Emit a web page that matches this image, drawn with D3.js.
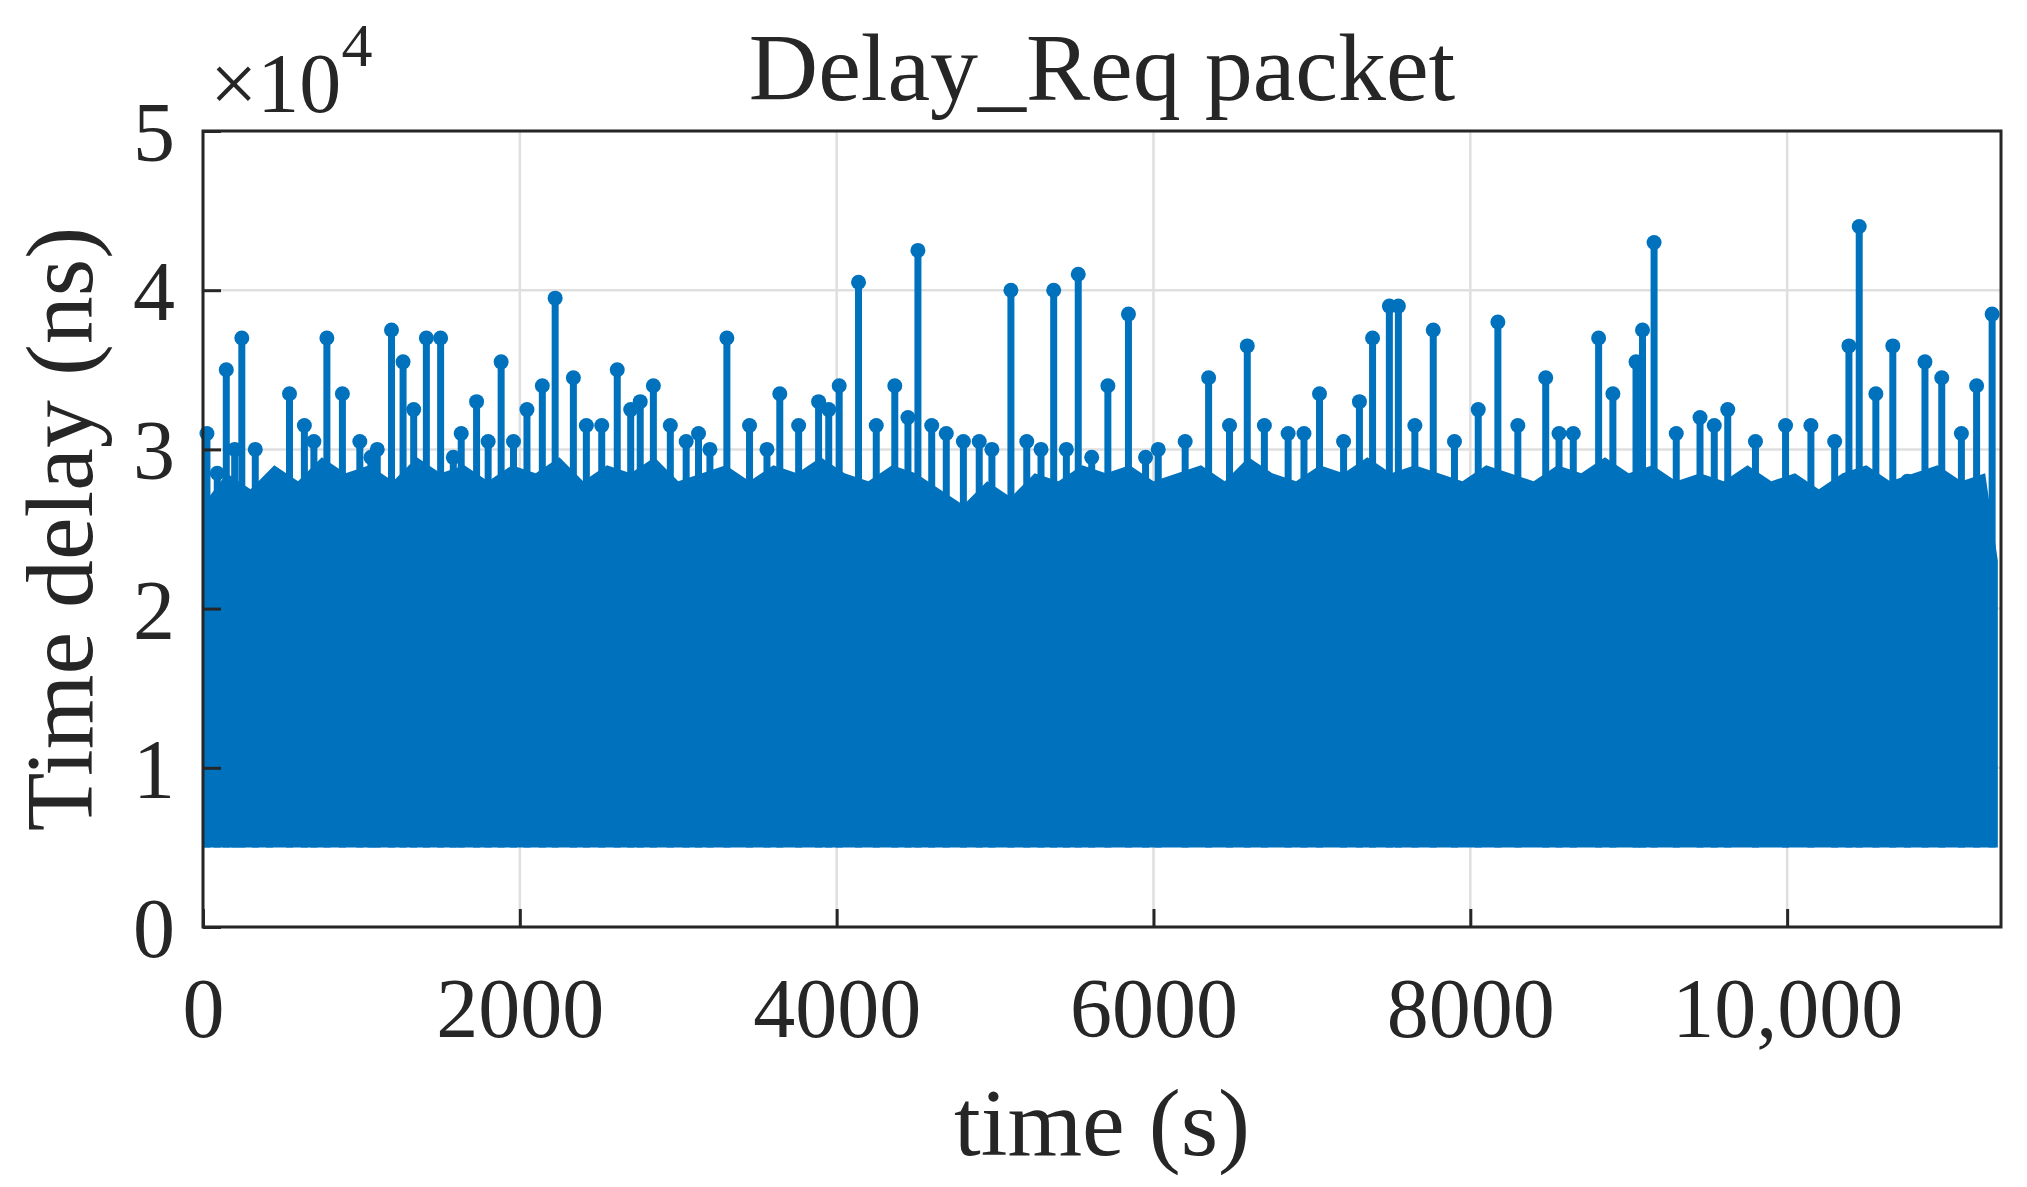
<!DOCTYPE html>
<html><head><meta charset="utf-8">
<script src="https://cdn.jsdelivr.net/npm/d3@7"></script>
<style>body{margin:0;background:#fff}svg text{font-family:"Liberation Serif","Times New Roman",serif;fill:#262626}</style>
</head><body><svg id="c" width="2027" height="1187"></svg>
<script>
// Hand-read peak delays (time s, delay ns)
const peakTimes = [25,90,147,200,245,330,420,546,640,700,782,880,990,1060,1100,1190,1263,1330,1410,1500,1580,1630,1727,1800,1882,1960,2045,2142,2223,2338,2420,2517,2615,2700,2760,2843,2950,3050,3128,3200,3307,3450,3560,3641,3760,3886,3950,4016,4138,4250,4367,4450,4513,4600,4692,4800,4900,4980,5100,5200,5290,5370,5450,5525,5610,5712,5842,5950,6030,6200,6348,6480,6592,6700,6850,6950,7048,7200,7300,7383,7489,7546,7650,7766,7900,8050,8174,8300,8476,8560,8650,8810,8900,9046,9087,9160,9300,9450,9540,9625,9800,9990,10150,10300,10390,10455,10560,10667,10760,10870,10976,11100,11196,11294];
const peakValues = [31000,28500,35000,30000,37000,30000,27000,33500,31500,30500,37000,33500,30500,29500,30000,37500,35500,32500,37000,37000,29500,31000,33000,30500,35500,30500,32500,34000,39500,34500,31500,31500,35000,32500,33000,34000,31500,30500,31000,30000,37000,31500,30000,33500,31500,33000,32500,34000,40500,31500,34000,32000,42500,31500,31000,30500,30500,30000,40000,30500,30000,40000,30000,41000,29500,34000,38500,29500,30000,30500,34500,31500,36500,31500,31000,31000,33500,30500,33000,37000,39000,39000,31500,37500,30500,32500,38000,31500,34500,31000,31000,37000,33500,35500,37500,43000,31000,32000,31500,32500,30500,31500,31500,30500,36500,44000,33500,36500,28000,35500,34500,31000,34000,38500];
// Upper envelope of the dense band (time s, delay ns)
const bandTimes = [0,150,300,450,600,750,900,1050,1200,1350,1500,1650,1800,1950,2100,2250,2400,2550,2700,2850,3000,3150,3300,3450,3600,3750,3900,4050,4200,4350,4500,4650,4800,4950,5100,5250,5400,5550,5700,5850,6000,6150,6300,6450,6600,6750,6900,7050,7200,7350,7500,7650,7800,7950,8100,8250,8400,8550,8700,8850,9000,9150,9300,9450,9600,9750,9900,10050,10200,10350,10500,10650,10800,10950,11100,11250,11330];
const bandTops = [26500,28500,27500,29000,28000,29500,28500,29000,28000,29500,28500,29000,28000,29000,28500,29500,28000,29000,28500,29500,28000,28500,29000,28000,29000,28500,29500,28500,28000,29000,28500,27500,26500,28000,27000,28500,28000,29000,28500,29000,28000,28500,29000,28000,29500,28500,28000,29000,28500,29500,28500,29000,28500,28000,29000,28500,28000,29000,28500,29500,28500,29000,28000,28500,28000,29000,28000,28500,27500,28500,29000,28000,28500,29000,28000,28500,23000];
const bandFloor = 5000;
const xTicks = [0,2000,4000,6000,8000,10000];
const yTicks = [0,1,2,3,4,5];

const L=203,R=2001,T=131,B=927, col="#0072BD";
const svg=d3.select("#c");
const x=d3.scaleLinear().domain([0,11350]).range([L,R]);
const y=d3.scaleLinear().domain([0,50000]).range([B,T]);
const g=svg.append("g");
g.selectAll(".gx").data(xTicks).join("line").attr("x1",d=>x(d)).attr("x2",d=>x(d)).attr("y1",T).attr("y2",B).attr("stroke","#dfdfdf").attr("stroke-width",2.5);
g.selectAll(".gy").data(yTicks).join("line").attr("y1",d=>y(d*1e4)).attr("y2",d=>y(d*1e4)).attr("x1",L).attr("x2",R).attr("stroke","#dfdfdf").attr("stroke-width",2.5);
const band=bandTimes.map((t,i)=>({t,v:bandTops[i]}));
g.append("path").datum(band).attr("fill",col).attr("d",d3.area().x(d=>x(d.t)).y0(y(bandFloor)).y1(d=>y(d.v)));
const pk=peakTimes.map((t,i)=>({t,v:peakValues[i]}));
g.selectAll(".st").data(pk).join("line").attr("x1",d=>x(d.t)).attr("x2",d=>x(d.t)).attr("y1",y(bandFloor)).attr("y2",d=>y(d.v)).attr("stroke",col).attr("stroke-width",7);
g.selectAll(".mk").data(pk).join("circle").attr("cx",d=>x(d.t)).attr("cy",d=>y(d.v)).attr("r",7.5).attr("fill",col);
const ax=svg.append("g");
ax.append("rect").attr("x",L).attr("y",T).attr("width",R-L).attr("height",B-T).attr("fill","none").attr("stroke","#262626").attr("stroke-width",3);
const xa=ax.append("g").attr("transform",`translate(0,${B})`).call(d3.axisBottom(x).tickValues(xTicks).tickSize(-18).tickPadding(50).tickFormat(d=>d>=10000?d3.format(",")(d):d));
const ya=ax.append("g").attr("transform",`translate(${L},0)`).call(d3.axisLeft(y).tickValues(yTicks.map(d=>d*1e4)).tickSize(-18).tickPadding(28).tickFormat(d=>d/1e4));
[xa,ya].forEach(a=>{a.select(".domain").remove();a.selectAll("line").attr("stroke","#262626").attr("stroke-width",3);a.selectAll("text").attr("font-size",84).attr("fill","#262626").style("font-family","Liberation Serif")});
xa.selectAll("text").attr("dy","0.71em");
ya.selectAll("text").attr("dy","0.35em");
svg.append("text").attr("x",(L+R)/2).attr("y",100).attr("text-anchor","middle").attr("font-size",96).text("Delay_Req packet");
const m=svg.append("text").attr("x",210).attr("y",112).attr("font-size",84);
m.append("tspan").text("\u00d710");
m.append("tspan").attr("dy",-46).attr("font-size",62).text("4");
svg.append("text").attr("x",(L+R)/2).attr("y",1155).attr("text-anchor","middle").attr("font-size",96).text("time (s)");
svg.append("text").attr("transform",`translate(92,${(T+B)/2}) rotate(-90)`).attr("text-anchor","middle").attr("font-size",96).text("Time delay (ns)");
</script></body></html>
